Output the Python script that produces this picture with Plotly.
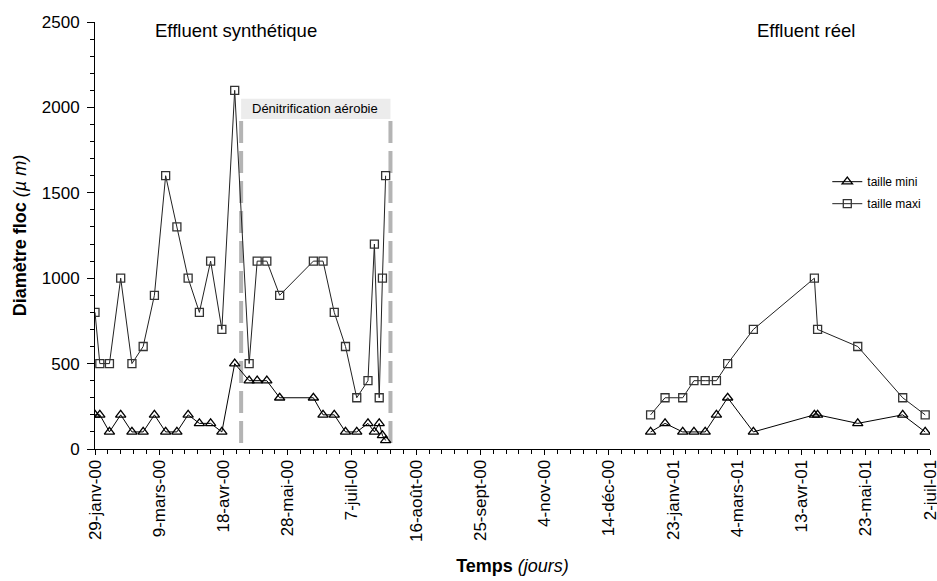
import plotly.graph_objects as go

# ---- data ----
dates = [
    "2000-01-29", "2000-02-01", "2000-02-07", "2000-02-14", "2000-02-21", "2000-02-28",
    "2000-03-06", "2000-03-13", "2000-03-20", "2000-03-27", "2000-04-03", "2000-04-10",
    "2000-04-17", "2000-04-25", "2000-05-04", "2000-05-09", "2000-05-15", "2000-05-23",
    "2000-06-13", "2000-06-19", "2000-06-26", "2000-07-03", "2000-07-10", "2000-07-17",
    "2000-07-21", "2000-07-24", "2000-07-26", "2000-07-28",
    None,
    "2001-01-09", "2001-01-18", "2001-01-29", "2001-02-05", "2001-02-12", "2001-02-19",
    "2001-02-26", "2001-03-14", "2001-04-21", "2001-04-23", "2001-05-18", "2001-06-15",
    "2001-06-29",
]
taille_mini = [
    200, 200, 100, 200, 100, 100, 200, 100, 100, 200, 150, 150, 100, 500, 400, 400,
    400, 300, 300, 200, 200, 100, 100, 150, 100, 150, 80, 50,
    None,
    100, 150, 100, 100, 100, 200, 300, 100, 200, 200, 150, 200, 100,
]
taille_maxi = [
    800, 500, 500, 1000, 500, 600, 900, 1600, 1300, 1000, 800, 1100, 700, 2100, 500, 1100,
    1100, 900, 1100, 1100, 800, 600, 300, 400, 1200, 300, 1000, 1600,
    None,
    200, 300, 300, 400, 400, 400, 500, 700, 1000, 700, 600, 300, 200,
]

tick_dates = ["2000-01-29", "2000-03-09", "2000-04-18", "2000-05-28", "2000-07-07",
              "2000-08-16", "2000-09-25", "2000-11-04", "2000-12-14", "2001-01-23",
              "2001-03-04", "2001-04-13", "2001-05-23", "2001-07-02"]
tick_labels = ["29-janv-00", "9-mars-00", "18-avr-00", "28-mai-00", "7-juil-00",
               "16-août-00", "25-sept-00", "4-nov-00", "14-déc-00", "23-janv-01",
               "4-mars-01", "13-avr-01", "23-mai-01", "2-juil-01"]

x_start, x_end = "2000-01-29", "2001-07-02"
denit_start, denit_end = "2000-04-29", "2000-07-31"
denit_label = "Dénitrification aérobie"
dash_bottom, dash_top = 35, 1926
label_bottom, label_top = 1932, 2050

FONT = "Liberation Sans, Arial, sans-serif"

fig = go.Figure()
fig.add_trace(go.Scatter(
    x=dates, y=taille_mini, name="taille mini", mode="lines+markers",
    connectgaps=False, legendgroup="a",
    line=dict(color="black", width=1),
    marker=dict(symbol="triangle-up-open", size=9, color="black", line=dict(width=1.3)),
))
fig.add_trace(go.Scatter(
    x=dates, y=taille_maxi, name="taille maxi", mode="lines+markers",
    connectgaps=False, legendgroup="b",
    line=dict(color="#222222", width=1),
    marker=dict(symbol="square-open", size=8, color="#333333", line=dict(width=1.3)),
))

# dashed box for aerobic denitrification
for d in (denit_start, denit_end):
    fig.add_shape(type="line", xref="x", yref="y", x0=d, x1=d,
                  y0=dash_bottom, y1=dash_top,
                  line=dict(color="#b4b4b4", width=4, dash="22px,8px"), layer="below")
fig.add_shape(type="rect", xref="x", yref="y", x0=denit_start, x1=denit_end,
              y0=label_bottom, y1=label_top, fillcolor="#ececec",
              line=dict(width=0), layer="below")
fig.add_annotation(x=denit_start, y=(label_bottom + label_top) / 2, xref="x", yref="y",
                   text=denit_label, showarrow=False, xanchor="left", xshift=9,
                   font=dict(family=FONT, size=13, color="black"))

fig.add_annotation(x="2000-04-26", y=2453, xref="x", yref="y", text="Effluent synthétique",
                   showarrow=False, font=dict(family=FONT, size=18.5, color="black"))
fig.add_annotation(x="2001-04-16", y=2453, xref="x", yref="y", text="Effluent réel",
                   showarrow=False, font=dict(family=FONT, size=18.5, color="black"))

fig.update_layout(
    width=937, height=581,
    margin=dict(l=95, r=7, t=22, b=132, autoexpand=False),
    paper_bgcolor="white", plot_bgcolor="white",
    font=dict(family=FONT, size=17, color="black"),
    showlegend=True,
    legend=dict(x=0.877, y=0.66, xanchor="left", yanchor="top",
                font=dict(family=FONT, size=12), bgcolor="rgba(0,0,0,0)",
                itemwidth=30, tracegroupgap=3, traceorder="grouped"),
)
fig.update_xaxes(
    type="date", range=[x_start, x_end], automargin=False,
    tickmode="array", tickvals=tick_dates, ticktext=tick_labels, tickangle=-90,
    ticks="outside", ticklen=5, tickwidth=1, tickcolor="black",
    minor=dict(dtick=8 * 86400000, tick0=x_start, ticks="outside", ticklen=4,
               tickcolor="black", showgrid=False),
    showline=True, linecolor="black", linewidth=1, showgrid=False, zeroline=False,
    tickfont=dict(size=17), ticklabelstandoff=-2, ticklabeloverflow="allow",
    title=dict(text="<b>Temps</b> <i>(jours)</i>", font=dict(size=18), standoff=18),
)
fig.update_yaxes(
    range=[0, 2500], tickvals=[0, 500, 1000, 1500, 2000, 2500], automargin=False,
    ticks="outside", ticklen=7, tickwidth=1, tickcolor="black",
    minor=dict(dtick=100, ticks="outside", ticklen=4, tickcolor="black", showgrid=False),
    showline=True, linecolor="black", linewidth=1, showgrid=False, zeroline=False,
    tickfont=dict(size=17), ticklabelstandoff=4,
    title=dict(text="<b>Diamètre floc</b> <i>(µ m)</i>", font=dict(size=18), standoff=10),
)

fig.write_html(
    "out.html",
    config={"displayModeBar": False},
    post_script="document.body.style.margin='0px';document.body.style.overflow='hidden';",
)
